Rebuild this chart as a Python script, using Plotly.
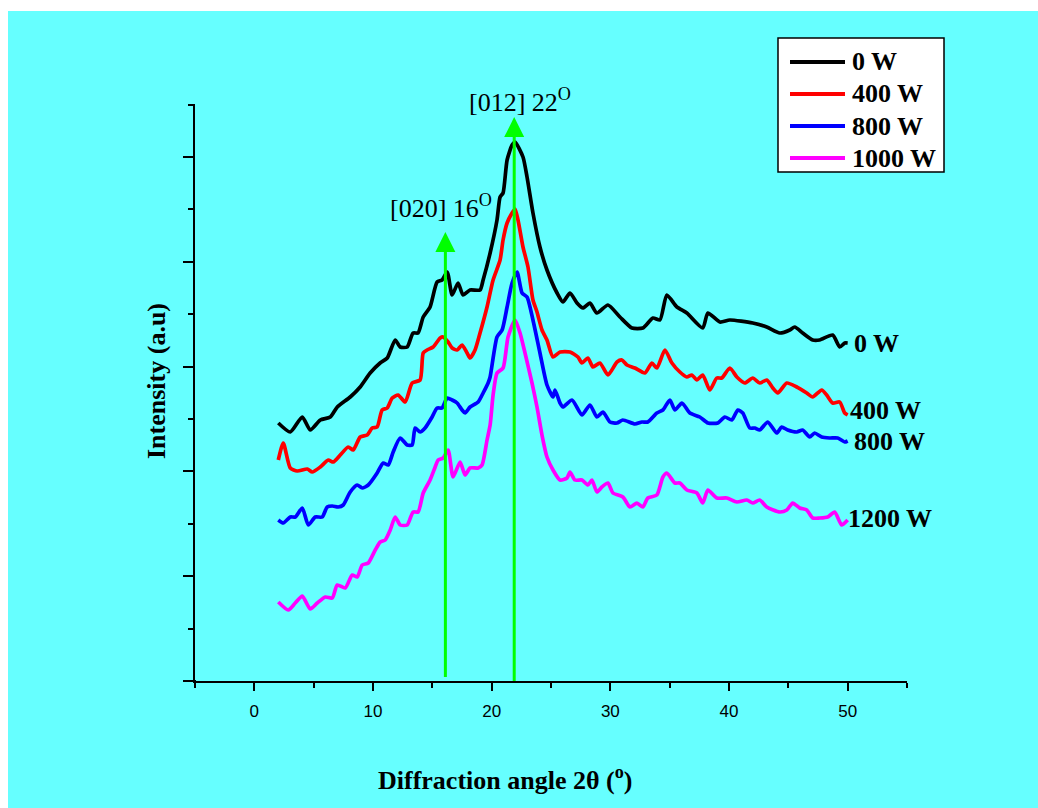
import plotly.graph_objects as go

# ---- data (x: diffraction angle 2theta in degrees, y: intensity in arbitrary units) ----
x_0w = [2.02, 3.03, 4.04, 4.71, 5.56, 6.40, 6.99, 8.08, 8.92, 9.76, 10.6, 11.2, 11.87, 12.29, 12.88,
        13.38, 13.8, 14.23, 14.81, 15.40, 15.82, 16.25, 16.67, 17.17, 17.59, 18.18, 19.02, 19.28,
        19.87, 20.45, 20.71, 20.96, 21.30, 21.72, 21.97, 22.64, 22.98, 23.48, 24.07, 24.66, 25.51,
        26.01, 26.60, 27.19, 27.69, 28.28, 28.87, 29.80, 30.81, 31.82, 32.74, 33.59, 34.18, 34.76,
        35.61, 36.45, 37.79, 38.22, 39.23, 40.07, 42.0, 43.18, 44.28, 45.12, 45.54, 46.21, 47.05,
        47.64, 48.74, 49.33, 49.75, 50.0]
y_0w = [258, 249, 264, 251, 261, 264, 274, 284, 294, 308, 318, 323, 341, 334, 334,
        348, 348, 364, 374, 399, 401, 409, 386, 398, 386, 391, 391, 401,
        428, 461, 484, 488, 521, 536, 539, 524, 504, 468, 434, 411, 388,
        379, 388, 378, 373, 378, 368, 376, 364, 353, 353, 363, 361, 386,
        374, 368, 353, 368, 359, 361, 358, 354, 348, 351, 354, 348, 341,
        341, 346, 334, 338, 338]

x_400w = [2.02, 2.44, 3.03, 3.62, 4.46, 4.88, 5.56, 6.23, 6.65, 7.24, 7.91, 8.33, 8.92, 9.51, 9.93,
          10.35, 10.77, 11.20, 11.62, 12.12, 12.71, 13.30, 13.97, 14.23, 14.56, 15.07, 15.66, 15.91,
          16.33, 16.67, 17.09, 17.51, 17.93, 18.18, 18.60, 19.02, 19.61, 20.12, 20.71, 20.96, 21.30,
          21.72, 21.97, 22.22, 22.64, 23.06, 23.48, 23.82, 24.24, 24.66, 25.17, 25.76, 26.60, 27.27,
          27.61, 28.11, 28.54, 29.12, 29.80, 30.56, 30.98, 31.40, 32.07, 32.91, 33.50, 33.92, 34.60,
          35.19, 35.86, 36.45, 36.87, 37.29, 37.79, 38.38, 38.97, 39.39, 40.07, 40.66, 41.33, 42.0,
          42.59, 43.18, 43.69, 44.11, 44.87, 45.71, 46.55, 47.05, 47.81, 48.23, 48.74, 49.33, 49.75, 50.0]
y_400w = [221, 238, 213, 210, 212, 209, 214, 221, 219, 226, 234, 231, 244, 246, 253,
          254, 271, 273, 283, 286, 279, 298, 301, 328, 331, 334, 343, 344,
          339, 333, 331, 336, 328, 323, 331, 348, 374, 401, 421, 441, 458,
          468, 472, 461, 434, 414, 381, 369, 351, 341, 324, 329, 329, 324,
          318, 323, 314, 318, 306, 319, 321, 316, 313, 308, 318, 313, 331,
          318, 309, 304, 306, 301, 306, 291, 303, 303, 313, 304, 298, 303,
          298, 301, 293, 288, 298, 294, 288, 284, 291, 286, 278, 279, 268, 266]

x_800w = [2.02, 2.44, 3.03, 3.45, 4.04, 4.55, 5.13, 5.72, 6.14, 6.57, 7.07, 7.49, 8.08, 8.67, 9.09,
          9.60, 10.35, 10.86, 11.28, 11.70, 12.29, 12.88, 13.30, 13.55, 13.97, 14.39, 14.98, 15.40,
          15.82, 16.25, 16.67, 17.09, 17.51, 17.76, 18.18, 18.86, 19.28, 19.70, 19.87, 20.45, 20.88,
          21.30, 21.72, 22.14, 22.56, 22.98, 23.48, 24.07, 24.66, 25.17, 25.34, 25.76, 26.01, 26.77,
          27.61, 28.28, 28.87, 29.38, 29.97, 30.56, 31.06, 32.07, 32.66, 33.16, 33.92, 34.43, 35.02,
          35.44, 36.03, 36.70, 37.54, 38.22, 39.06, 39.65, 40.24, 40.74, 41.16, 41.75, 42.17, 42.59,
          43.27, 44.02, 44.44, 44.95, 45.71, 46.21, 46.80, 47.22, 47.81, 48.48, 49.16, 49.75, 50.0]
y_800w = [161, 158, 164, 164, 173, 156, 164, 164, 174, 175, 174, 176, 189, 196, 193,
          196, 208, 218, 216, 229, 243, 236, 236, 253, 249, 253, 264, 273,
          273, 283, 281, 278, 271, 268, 274, 279, 288, 298, 304, 344, 351,
          374, 398, 409, 388, 384, 361, 328, 296, 284, 291, 278, 274, 281,
          266, 276, 264, 269, 259, 258, 261, 257, 259, 259, 268, 271, 281,
          271, 278, 268, 264, 258, 258, 264, 261, 271, 268, 253, 253, 251,
          259, 248, 254, 251, 249, 251, 244, 248, 244, 243, 243, 239, 240]

x_1000w = [2.02, 2.86, 3.45, 4.04, 4.71, 5.30, 5.98, 6.57, 6.99, 7.66, 8.25, 8.67, 9.09, 9.60, 10.19,
           10.61, 11.03, 11.45, 11.87, 12.29, 12.88, 13.38, 13.80, 14.23, 14.81, 15.24, 15.49, 15.91,
           16.33, 16.75, 17.34, 17.76, 18.18, 18.86, 19.19, 19.61, 19.87, 20.12, 20.45, 20.96, 21.38,
           21.97, 22.39, 22.81, 23.40, 23.82, 24.24, 24.66, 25.17, 25.76, 26.35, 26.60, 27.02, 27.61,
           28.11, 28.45, 28.87, 29.29, 29.80, 30.22, 31.06, 31.65, 32.24, 32.74, 33.16, 33.92, 34.43,
           34.76, 35.44, 35.86, 36.45, 37.29, 37.79, 38.22, 38.97, 39.81, 40.66, 41.50, 42.0, 42.59,
           43.18, 44.28, 44.87, 45.37, 45.96, 46.55, 47.05, 47.64, 48.32, 48.91, 49.49, 50.0]
y_1000w = [79, 71, 78, 85, 72, 78, 84, 83, 96, 93, 106, 104, 116, 118, 131,
           139, 141, 151, 164, 156, 156, 169, 169, 188, 201, 214, 221, 223,
           231, 204, 219, 206, 213, 213, 216, 241, 256, 286, 308, 313, 344,
           361, 348, 328, 298, 274, 246, 224, 211, 201, 203, 209, 201, 201,
           196, 201, 189, 194, 198, 188, 184, 174, 178, 174, 183, 186, 204,
           208, 198, 198, 191, 188, 178, 191, 183, 183, 179, 181, 178, 181,
           174, 169, 171, 178, 173, 171, 163, 163, 164, 169, 156, 161]

series_names = ["0 W", "400 W", "800 W", "1000 W"]
end_labels = ["0 W", "400 W", "800 W", "1200 W"]
colors = ["#000000", "#FF0000", "#0000FF", "#FF00FF"]
peak_angles = [16.1, 21.9]
peak_labels = ["[020] 16<sup>O</sup>", "[012] 22<sup>O</sup>"]
peak_tips = [449, 564]
peak_tails = [4, 0]

SERIF = "Liberation Serif"
SANS = "Liberation Sans"
GREEN = "#00FF00"
FS = 26

xs = [x_0w, x_400w, x_800w, x_1000w]
ys = [y_0w, y_400w, y_800w, y_1000w]

fig = go.Figure()

for name, x, y, c in zip(series_names, xs, ys, colors):
    fig.add_trace(go.Scatter(x=x, y=y, mode="lines", name=name,
                             line=dict(color=c, width=3.7, shape="spline", smoothing=0.6),
                             showlegend=False))

# green peak arrows, drawn on top of the curves
for ang, tip, tail in zip(peak_angles, peak_tips, peak_tails):
    fig.add_trace(go.Scatter(x=[ang, ang], y=[tail, tip - 8], mode="lines",
                             line=dict(color=GREEN, width=3), showlegend=False, hoverinfo="skip"))
    fig.add_trace(go.Scatter(x=[ang], y=[tip], mode="markers",
                             marker=dict(symbol="arrow-up", size=20, color=GREEN,
                                         line=dict(width=0)),
                             showlegend=False, hoverinfo="skip"))

# plot-area geometry (pixels) used to place paper-referenced items
L, R, T, B = 195, 907, 104, 681
def px(xp):
    return (xp - L) / (R - L)
def py(yp):
    return (B - yp) / (B - T)

shapes = []
# cyan panel
shapes.append(dict(type="rect", xref="paper", yref="paper", x0=px(8), x1=px(1040),
                   y0=py(11), y1=py(810), fillcolor="#66FFFF", line=dict(width=0), layer="below"))
# small overhang of the x axis line beyond the y axis, as in the reference
shapes.append(dict(type="line", xref="paper", yref="paper", x0=px(186), x1=px(196),
                   y0=0, y1=0, line=dict(color="#000000", width=2), layer="above"))
# legend box
shapes.append(dict(type="rect", xref="paper", yref="paper", x0=px(778), x1=px(944),
                   y0=py(38), y1=py(172), fillcolor="#FFFFFF", line=dict(color="#000000", width=1.5),
                   layer="above"))
annotations = []
leg_y = [62, 94, 126, 158]
for name, c, ly in zip(series_names, colors, leg_y):
    shapes.append(dict(type="line", xref="paper", yref="paper", x0=px(790), x1=px(845),
                       y0=py(ly), y1=py(ly), line=dict(color=c, width=4), layer="above"))
    annotations.append(dict(xref="paper", yref="paper", x=px(850), y=py(ly), text=name,
                            showarrow=False, xanchor="left", yanchor="middle",
                            font=dict(family=SERIF, size=FS, color="#000000", weight=700)))

# end-of-curve labels
end_y = [338, 271, 240, 163]
end_x = [50.4, 50.0, 50.4, 49.9]
for lab, ex, ey in zip(end_labels, end_x, end_y):
    annotations.append(dict(x=ex, y=ey, text=lab, showarrow=False, xanchor="left", yanchor="middle",
                            font=dict(family=SERIF, size=FS, color="#000000", weight=700)))

# peak labels
annotations.append(dict(x=15.7, y=475, text=peak_labels[0], showarrow=False,
                        xanchor="center", yanchor="middle",
                        font=dict(family=SERIF, size=FS, color="#000000")))
annotations.append(dict(xref="x", yref="paper", x=22.4, y=py(100), text=peak_labels[1], showarrow=False,
                        xanchor="center", yanchor="middle",
                        font=dict(family=SERIF, size=FS, color="#000000")))

# axis titles
annotations.append(dict(xref="paper", yref="paper", x=px(505), y=py(779),
                        text="Diffraction angle 2θ (<sup>o</sup>)", showarrow=False,
                        xanchor="center", yanchor="middle",
                        font=dict(family=SERIF, size=FS, color="#000000", weight=700)))
annotations.append(dict(xref="paper", yref="paper", x=px(157), y=py(381),
                        text="Intensity (a.u)", showarrow=False, textangle=-90,
                        xanchor="center", yanchor="middle",
                        font=dict(family=SERIF, size=FS, color="#000000", weight=700)))

fig.update_layout(
    width=1038, height=808,
    margin=dict(l=L, r=1038 - R, t=T, b=808 - B),
    paper_bgcolor="#FFFFFF",
    plot_bgcolor="#66FFFF",
    shapes=shapes,
    annotations=annotations,
    showlegend=False,
)
fig.update_xaxes(range=[-5, 55], tickmode="linear", tick0=0, dtick=10,
                 ticks="outside", ticklen=8, tickwidth=2, tickcolor="#000000",
                 showline=True, linecolor="#000000", linewidth=2, mirror=False,
                 showgrid=False, zeroline=False, ticklabelstandoff=6,
                 tickfont=dict(family=SANS, size=17, color="#000000"),
                 minor=dict(dtick=5, tick0=0, ticks="outside", ticklen=5, tickwidth=2,
                            tickcolor="#000000", showgrid=False))
fig.update_yaxes(range=[0, 577], tickmode="linear", tick0=0, dtick=104.8,
                 ticks="outside", ticklen=10, tickwidth=2, tickcolor="#000000",
                 showline=True, linecolor="#000000", linewidth=2, mirror=False,
                 showgrid=False, zeroline=False, showticklabels=False,
                 minor=dict(dtick=52.4, tick0=0, ticks="outside", ticklen=5, tickwidth=2,
                            tickcolor="#000000", showgrid=False))

fig.write_html("out.html")
